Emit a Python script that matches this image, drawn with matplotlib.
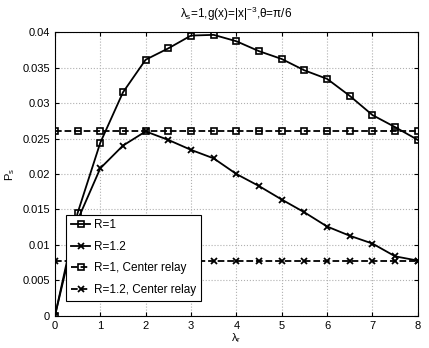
import numpy as np
import matplotlib
matplotlib.use('Agg')
import matplotlib.pyplot as plt

plt.rcParams['font.family'] = ['Liberation Sans', 'DejaVu Sans']
plt.rcParams['mathtext.fontset'] = 'custom'
plt.rcParams['mathtext.rm'] = 'Liberation Sans'
plt.rcParams['mathtext.it'] = 'Liberation Sans'
plt.rcParams['font.size'] = 8

# data
lam_r = [0, 0.5, 1, 1.5, 2, 2.5, 3, 3.5, 4, 4.5, 5, 5.5, 6, 6.5, 7, 7.5, 8]
ps_r1 = [0, 0.0145, 0.0244, 0.0315, 0.0361, 0.0377, 0.0395, 0.0396, 0.0387,
         0.0373, 0.0362, 0.0346, 0.0334, 0.0310, 0.0283, 0.0266, 0.0248]
ps_r12 = [0, 0.0135, 0.0208, 0.0240, 0.0260, 0.0248, 0.0234, 0.0222, 0.0200,
          0.0183, 0.0164, 0.0146, 0.0126, 0.0113, 0.0102, 0.0084, 0.0078]
ps_center_r1 = [0.0260] * len(lam_r)
ps_center_r12 = [0.0078] * len(lam_r)

fig = plt.figure(figsize=(4.29, 3.48), dpi=100)
ax = fig.add_axes([0.128, 0.092, 0.846, 0.816])

ax.plot(lam_r, ps_r1, 'k-s', lw=1.3, ms=5, mfc='none', mew=1.2, label='R=1')
ax.plot(lam_r, ps_r12, 'k-x', lw=1.3, ms=5, mew=1.3, label='R=1.2')
ax.plot(lam_r, ps_center_r1, 'k--s', lw=1.3, ms=5, mfc='none', mew=1.2,
        label='R=1, Center relay')
ax.plot(lam_r, ps_center_r12, 'k--x', lw=1.3, ms=5, mew=1.3,
        label='R=1.2, Center relay')

ax.set_xlim(0, 8)
ax.set_ylim(0, 0.04)
ax.set_xticks(range(0, 9))
yt = np.arange(0, 0.0401, 0.005)
ax.set_yticks(yt)
ax.set_yticklabels(['0'] + ['%g' % v for v in yt[1:]])
ax.grid(color='#b0b0b0', linestyle=':', linewidth=0.8)
ax.tick_params(direction='in', length=3, top=True, right=True)

ax.set_title(r'$\mathregular{\lambda_s}$=1,g(x)=|x|$\mathregular{^{-3}}$,θ=π/6',
             fontsize=8.5, pad=10)
ax.set_xlabel(r'$\mathregular{\lambda_r}$', labelpad=0)
ax.set_ylabel(r'$\mathregular{P_s}$')

leg = ax.legend(loc='lower left', bbox_to_anchor=(0.022, 0.042), fancybox=False,
                edgecolor='k', framealpha=1, handlelength=1.6, borderpad=0.4,
                labelspacing=0.8, handletextpad=0.35, borderaxespad=0.3,
                fontsize=8.5)
leg.get_frame().set_linewidth(0.8)

fig.savefig('out.png', dpi=100)
